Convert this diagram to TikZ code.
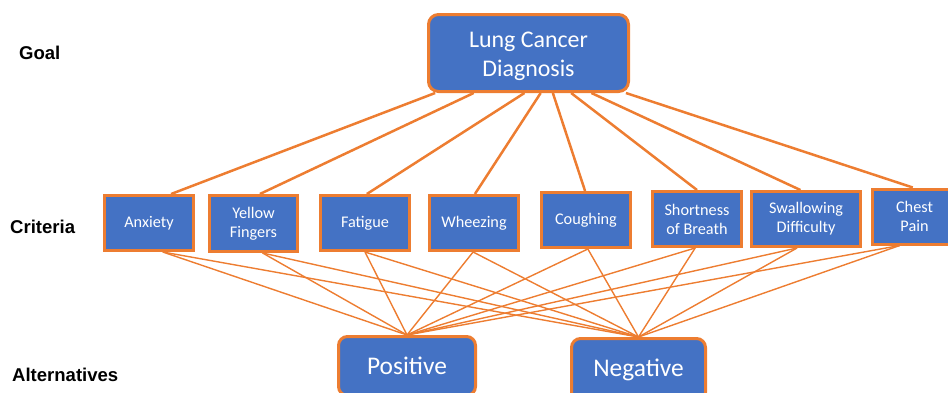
\documentclass[tikz,border=0pt]{standalone}
\usepackage{fontspec}
\setmainfont{Carlito}
\newfontfamily\labfont{Liberation Sans}
\usetikzlibrary{calc,backgrounds}
\definecolor{boxblue}{HTML}{4472C4}
\definecolor{lineor}{HTML}{ED7D31}
\begin{document}
\begin{tikzpicture}[x=1bp,y=-1bp,
 boxbase/.style={draw=lineor, line width=3bp, fill=boxblue, text=white, inner sep=0pt, align=center},
 crit/.style={boxbase, minimum width=89bp, minimum height=55bp, font=\fontsize{16.3}{19}\selectfont},
 goalbox/.style={boxbase, rounded corners=10bp, font=\fontsize{24}{28.5}\selectfont},
 altbox/.style={boxbase, rounded corners=9bp, font=\fontsize{25.5}{30}\selectfont},
 levellab/.style={font=\labfont\bfseries\fontsize{18.6}{22}\selectfont, anchor=west, inner sep=0pt},
 topline/.style={draw=lineor, line width=2.5bp},
 botline/.style={draw=lineor, line width=1.4bp}]
\useasboundingbox (0,0) rectangle (948,392);
\clip (0,0) rectangle (948,392);
\node[goalbox, minimum width=200bp, minimum height=77bp] (g) at (528.5,53) {\raisebox{-3.5bp}[\height][\depth]{\begin{tabular}{@{}c@{}}Lung Cancer\\Diagnosis\end{tabular}}};
\node[crit] (c1) at (149,223) {Anxiety};
\node[crit, minimum width=88bp, minimum height=56bp] (c2) at (253.5,223.5) {Yellow\\Fingers};
\node[crit] (c3) at (365,223) {Fatigue};
\node[crit] (c4) at (474,223) {Wheezing};
\node[crit] (c5) at (586,220) {Coughing};
\node[crit] (c6) at (697,219) {Shortness\\of Breath};
\node[crit, minimum width=109bp] (c7) at (806,219) {Swallowing\\Difficulty};
\node[crit, minimum width=84bp] (c8) at (914.5,216.5) {Chest\\Pain};
\node[altbox, minimum width=137bp, minimum height=59bp] (pos) at (407,366) {Positive};
\node[altbox, minimum width=134bp, minimum height=63bp] (neg) at (638.5,370) {Negative};
\node[levellab] (lg) at (19,53) {Goal};
\node[levellab] (lc) at (10,227) {Criteria};
\node[levellab] (la) at (12,375) {Alternatives};
\begin{pgfonlayer}{background}
\foreach \i/\a/\b in {1/0.04/0.74, 2/0.23/0.57, 3/0.48/0.52, 4/0.56/0.51, 5/0.62/0.49, 6/0.71/0.5, 7/0.81/0.45, 8/0.98/0.48}
  \draw[topline] ($(g.south west)!\a!(g.south east)$) -- ($(c\i.north west)!\b!(c\i.north east)$);
\foreach \i/\f in {1/0.65,2/0.6,3/0.5,4/0.49,5/0.52,6/0.48,7/0.42,8/0.33}{
  \draw[botline] ($(c\i.south west)!\f!(c\i.south east)$) -- (pos.north);
  \draw[botline] ($(c\i.south west)!\f!(c\i.south east)$) -- (neg.north);
}
\end{pgfonlayer}
\end{tikzpicture}
\end{document}
